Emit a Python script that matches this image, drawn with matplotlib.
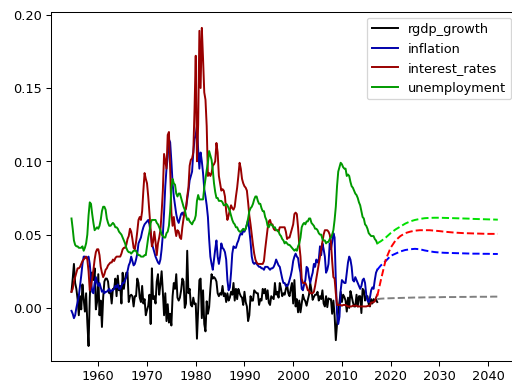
import numpy as np
import matplotlib
matplotlib.use("Agg")
import matplotlib.pyplot as plt

# ---- historical quarterly data, 1954Q3 .. 2017Q2 ----
start_year = 1954.5

rgdp_growth = [
    .011, .020,
    .030, .017, .013, .006,
    -.005, .008, -.001, .016,
    .006, -.0025, .010, -.010,
    -.026, .007, .024, .024,
    .019, .027, -.001, .004,
    .023, -.005, .005, -.013,
    .007, .018, .020, .020,
    .018, .010, .011, .003,
    .013, .013, .020, .008,
    .022, .012, .015, .003,
    .024, .013, .020, .024,
    .024, .004, .008, .009,
    .008, .001, .008, .008,
    .020, .017, .007, .004,
    .015, .003, .006, -.005,
    -.0015, .0015, .009, -.011,
    .027, .006, .008, .003,
    .018, .023, .009, .016,
    .025, .011, -.005, .010,
    -.009, .0025, -.010, -.004,
    -.012, .008, .017, .013,
    .023, .007, .005, .007,
    .012, .020, .018, .000,
    .003, .039, .010, .013,
    .002, .001, .007, .0025,
    .003, -.021, -.001, .019,
    .020, -.007, .012, -.011,
    -.016, .0045, -.004, .0005,
    .013, .023, .020, .021,
    .020, .018, .010, .008,
    .010, .009, .015, .008,
    .010, .004, .010, .005,
    .007, .011, .009, .017,
    .005, .013, .006, .013,
    .010, .008, .007, .002,
    .011, .004, .001, -.009,
    -.005, .008, .005, .005,
    .012, .011, .010, .010,
    .002, .006, .005, .013,
    .010, .013, .006, .012,
    .0035, .002, .008, .007,
    .006, .017, .009, .011,
    .007, .017, .013, .008,
    .010, .009, .013, .016,
    .010, .008, .013, .017,
    .003, .019, .001, .006,
    -.003, .005, -.003, .003,
    .009, .006, .0045, .0015,
    .0055, .009, .017, .012,
    .0055, .0075, .009, .009,
    .011, .005, .008, .006,
    .012, .003, .001, .008,
    .0005, .0065, .006, .006,
    -.004, .005, -.005, -.022,
    -.011, -.0015, .004, .011,
    .004, .009, .0075, .005,
    -.0025, .007, .000, .0115,
    .008, .004, .001, .001,
    .009, .001, .008, .008,
    -.0035, .013, .012, .005,
    .008, .008, .0025, .001,
    .006, .003, .006, .005,
    .0057, .004,
]

inflation = [
    -.002, -.004,
    -.007, -.005, .000, .004,
    .008, .015, .022, .030,
    .035, .035, .034, .034,
    .035, .030, .020, .011,
    .010, .017, .021, .017,
    .015, .017, .014, .011,
    .012, .010, .011, .011,
    .012, .013, .011, .012,
    .012, .013, .015, .014,
    .016, .013, .013, .015,
    .017, .017, .019, .021,
    .025, .029, .031, .035,
    .032, .029, .030, .033,
    .037, .044, .046, .048,
    .052, .055, .057, .058,
    .059, .060, .057, .051,
    .044, .041, .038, .035,
    .033, .031, .030, .033,
    .040, .050, .065, .083,
    .095, .103, .115, .113,
    .100, .085, .076, .070,
    .064, .060, .058, .061,
    .064, .065, .063, .066,
    .068, .074, .080, .087,
    .090, .093, .106, .115,
    .118, .124, .108, .095,
    .106, .100, .092, .081,
    .076, .070, .062, .047,
    .035, .030, .026, .033,
    .040, .046, .035, .030,
    .035, .044, .041, .040,
    .038, .033, .019, .012,
    .014, .024, .037, .042,
    .041, .041, .044, .046,
    .049, .051, .050, .053,
    .052, .054, .057, .060,
    .053, .045, .035, .031,
    .030, .031, .030, .029,
    .028, .028, .027, .027,
    .026, .028, .028, .028,
    .027, .026, .027, .027,
    .028, .030, .033, .031,
    .029, .028, .024, .020,
    .017, .017, .015, .015,
    .016, .019, .022, .026,
    .032, .035, .037, .035,
    .034, .028, .024, .013,
    .012, .016, .019, .028,
    .027, .021, .017, .021,
    .024, .030, .028, .033,
    .031, .033, .042, .036,
    .044, .040, .035, .024,
    .026, .030, .044, .040,
    .045, .051, .048, .019,
    -.004, -.011, -.006, .012,
    .019, .018, .017, .017,
    .024, .031, .035, .033,
    .028, .019, .018, .021,
    .019, .017, .015, .013,
    .015, .019, .020, .017,
    .009, .005, .004, .007,
    .012, .014, .013, .019,
    .024, .026,
]

interest_rates = [
    .011, .013,
    .018, .021, .024, .027,
    .027, .028, .030, .032,
    .033, .034, .035, .033,
    .025, .012, .015, .020,
    .026, .033, .038, .040,
    .040, .036, .028, .024,
    .021, .023, .026, .027,
    .029, .030, .031, .031,
    .033, .032, .034, .035,
    .035, .035, .035, .037,
    .040, .041, .041, .043,
    .047, .049, .054, .052,
    .047, .041, .040, .045,
    .052, .060, .062, .060,
    .066, .080, .092, .088,
    .085, .076, .065, .055,
    .042, .045, .052, .045,
    .036, .044, .048, .053,
    .065, .080, .105, .100,
    .095, .118, .120, .095,
    .065, .056, .062, .054,
    .049, .053, .052, .048,
    .047, .055, .061, .066,
    .068, .076, .082, .097,
    .101, .102, .106, .135,
    .172, .100, .125, .189,
    .150, .191, .170, .147,
    .142, .124, .090, .092,
    .090, .092, .097, .098,
    .100, .1125, .106, .090,
    .085, .080, .081, .080,
    .076, .066, .060, .063,
    .067, .070, .068, .067,
    .069, .076, .082, .090,
    .099, .095, .088, .085,
    .083, .082, .080, .072,
    .063, .057, .050, .043,
    .037, .033, .031, .030,
    .030, .030, .030, .030,
    .032, .040, .047, .054,
    .059, .060, .057, .057,
    .054, .053, .053, .053,
    .052, .055, .055, .055,
    .055, .055, .052, .047,
    .048, .048, .051, .054,
    .057, .064, .065, .064,
    .055, .043, .035, .020,
    .017, .017, .017, .015,
    .012, .012, .010, .010,
    .010, .011, .015, .020,
    .025, .030, .035, .040,
    .045, .050, .053, .053,
    .053, .052, .050, .045,
    .032, .021, .020, .010,
    .002, .002, .002, .002,
    .0015, .002, .002, .002,
    .0015, .001, .001, .001,
    .001, .0015, .0015, .0015,
    .0015, .001, .001, .001,
    .001, .001, .001, .001,
    .001, .0013, .0014, .0016,
    .0036, .0037, .0039, .0045,
    .007, .009,
]

unemployment = [
    .061, .054,
    .046, .043, .042, .042,
    .041, .041, .041, .042,
    .039, .041, .044, .050,
    .063, .072, .071, .064,
    .058, .053, .054, .055,
    .054, .056, .060, .066,
    .069, .069, .067, .061,
    .058, .056, .056, .057,
    .058, .057, .055, .055,
    .054, .052, .051, .050,
    .048, .046, .044, .041,
    .039, .038, .038, .037,
    .038, .039, .039, .039,
    .037, .036, .036, .035,
    .035, .035, .036, .036,
    .042, .048, .052, .058,
    .060, .060, .060, .060,
    .058, .057, .055, .053,
    .050, .049, .048, .048,
    .051, .052, .056, .066,
    .082, .088, .085, .084,
    .078, .076, .078, .078,
    .075, .072, .069, .067,
    .063, .060, .061, .059,
    .058, .057, .059, .060,
    .063, .073, .077, .074,
    .074, .074, .074, .082,
    .088, .094, .099, .107,
    .104, .101, .094, .085,
    .079, .075, .075, .073,
    .073, .073, .072, .070,
    .070, .071, .070, .068,
    .066, .063, .060, .058,
    .057, .055, .055, .053,
    .052, .052, .053, .054,
    .053, .054, .057, .061,
    .066, .068, .069, .071,
    .074, .076, .076, .073,
    .071, .071, .068, .066,
    .066, .062, .060, .056,
    .055, .057, .057, .056,
    .055, .055, .053, .053,
    .052, .050, .049, .047,
    .046, .044, .045, .044,
    .043, .043, .042, .041,
    .040, .039, .040, .039,
    .042, .044, .048, .055,
    .057, .058, .057, .059,
    .059, .061, .061, .058,
    .057, .056, .054, .054,
    .053, .051, .050, .050,
    .047, .046, .046, .044,
    .045, .045, .047, .048,
    .050, .053, .060, .069,
    .083, .093, .096, .099,
    .098, .096, .095, .095,
    .090, .091, .090, .086,
    .083, .082, .080, .078,
    .077, .075, .072, .070,
    .066, .062, .061, .057,
    .056, .054, .051, .050,
    .049, .049, .049, .047,
    .046, .044,
]

# ---- forecasts ----
fc_years = [2017.25] + list(range(2018, 2043))
fc_rgdp = [.006, .0063, .0065, .0066, .0067, .0068, .0069, .0070, .0071,
           .0071, .0072, .0072, .0073, .0073, .0074, .0074, .0074, .0075,
           .0075, .0075, .0076, .0076, .0076, .0076, .0077, .0077]
fc_inflation = [.026, .029, .032, .0355, .037, .0385, .0395, .0400, .0403,
                .0400, .0392, .0386, .0381, .0378, .0376, .0375, .0374,
                .0373, .0372, .0371, .0370, .0370, .0369, .0369, .0368, .0368]
fc_interest = [.008, .019, .033, .041, .046, .049, .051, .052, .0527,
               .0530, .0530, .0530, .0527, .0524, .0520, .0517, .0514,
               .0512, .0510, .0509, .0508, .0507, .0506, .0505, .0505, .0505]
fc_unemployment = [.044, .0455, .048, .051, .0535, .0555, .0575, .059, .060,
                   .0607, .0612, .0614, .0615, .0615, .0614, .0613, .0612,
                   .0611, .0610, .0609, .0607, .0606, .0605, .0604, .0603, .0602]

series = [
    ("rgdp_growth", rgdp_growth, "black", fc_rgdp, "gray"),
    ("inflation", inflation, "#0000aa", fc_inflation, "blue"),
    ("interest_rates", interest_rates, "#990000", fc_interest, "red"),
    ("unemployment", unemployment, "#009900", fc_unemployment, "#00e000"),
]

DPI = 93
fig = plt.figure(figsize=(512.3 / DPI, 383.3 / DPI), dpi=DPI)
ax = fig.add_axes([51 / 512, 22 / 383, 466 / 512, 348.5 / 383])

for name, vals, col, _, _ in series:
    yrs = start_year + 0.25 * np.arange(len(vals))
    ax.plot(yrs, vals, color=col, lw=1.5, label=name)
for name, _, _, fc, fcol in series:
    ax.plot(fc_years, fc, color=fcol, lw=1.5, ls="--")

ax.set_xlim(1950.3, 2046.0)
ax.set_ylim(-0.0362, 0.2017)
ax.set_xticks([1960, 1970, 1980, 1990, 2000, 2010, 2020, 2030, 2040])
ax.set_yticks([0.0, 0.05, 0.10, 0.15, 0.20])
ax.set_yticklabels(["0.00", "0.05", "0.10", "0.15", "0.20"])

ax.legend(loc="upper right", bbox_to_anchor=(511 / 512, 1 - 18 / 383),
          bbox_transform=fig.transFigure, borderaxespad=0)

fig.savefig("out.png", dpi=DPI)
